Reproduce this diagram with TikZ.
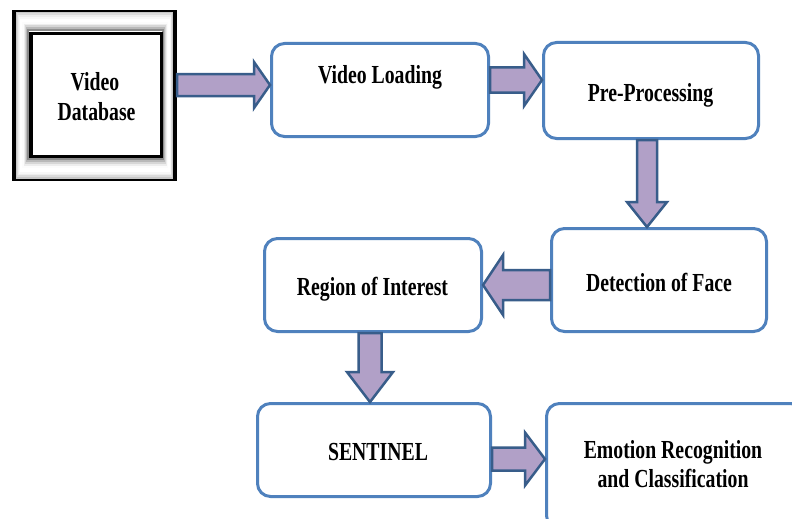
\documentclass[tikz,border=0pt]{standalone}
\usepackage{fontspec}
\usetikzlibrary{calc}
\newfontfamily\labfont{Liberation Serif}[FakeStretch=0.76,UprightFont={* Bold}]
\definecolor{boxblue}{HTML}{4F81BD}
\definecolor{arrowedge}{HTML}{385D8A}
\definecolor{arrowfill}{HTML}{B1A0C7}

% block arrow: tail, tip, shaft half-width, head half-width, head length
\newcommand\blockarrow[5]{%
  \path ($(#2)!#5!(#1)$) coordinate (ab);
  \draw[flowarrow] ($(#1)!#3!90:(#2)$) -- ($(ab)!#3!90:(#2)$) -- ($(ab)!#4!90:(#2)$) -- (#2)
    -- ($(ab)!#4!-90:(#2)$) -- ($(ab)!#3!-90:(#2)$) -- ($(#1)!#3!-90:(#2)$) -- cycle;}

\tikzset{
  procbox/.style={draw=boxblue, line width=3pt, rounded corners=13pt, fill=white, inner sep=0pt},
  flowarrow/.style={draw=arrowedge, fill=arrowfill, line width=2.5pt, line join=miter},
  lbl/.style={font=\labfont\fontsize{26}{29}\selectfont, inner sep=0pt, anchor=base, text=black},
}

\begin{document}
\begin{tikzpicture}[x=1pt,y=-1pt]
\clip (0,0) rectangle (792,519);
\fill[white] (0,0) rectangle (792,519);

% framed database block with a bevelled mat
\node[draw=black, line width=4pt, fill=white, minimum width=161pt, minimum height=167pt, inner sep=0pt] (dbframe) at (94.5,95.5) {};
\foreach \i in {0,...,10}{
  \pgfmathsetmacro\t{\i/10}
  \pgfmathsetmacro\g{int(\t<0.5 ? 22*(1-2*\t)*(1-2*\t) : 45*(2*\t-1)*(2*\t-1))}
  \draw[black!\g, line width=2.4pt] ({17+11*\t},{13+17*\t}) rectangle ({172-9*\t},{178-19*\t});
}
\node[draw=black, line width=3.5pt, fill=white, minimum width=130.5pt, minimum height=123pt, inner sep=0pt] (db) at (96.25,95) {};

% process boxes
\node[procbox, minimum width=217pt, minimum height=93pt]  (vl)  at (380,90)   {};
\node[procbox, minimum width=215pt, minimum height=96pt]  (pp)  at (651,90.5) {};
\node[procbox, minimum width=215pt, minimum height=103pt] (df)  at (659,280)  {};
\node[procbox, minimum width=217pt, minimum height=93pt]  (roi) at (373,285)  {};
\node[procbox, minimum width=233pt, minimum height=93pt]  (sen) at (374,450)  {};
\node[procbox, minimum width=257pt, minimum height=125pt] (emo) at (675,466)  {};

% arrow end points
\coordinate (a1s) at (dbframe.east |- 0,85);
\coordinate (a1e) at (vl.west |- 0,85);
\coordinate (a2s) at (vl.east |- 0,80);
\coordinate (a2e) at (pp.west |- 0,80);
\coordinate (a3s) at (pp.south -| 647,0);
\coordinate (a3e) at (df.north -| 647,0);
\coordinate (a4s) at (df.west |- 0,285);
\coordinate (a4e) at (roi.east |- 0,285);
\coordinate (a5s) at (roi.south -| 370,0);
\coordinate (a5e) at (sen.north -| 370,0);
\coordinate (a6s) at (sen.east |- 0,459);
\coordinate (a6e) at (emo.west |- 0,459);

\blockarrow{a1s}{a1e}{11pt}{23pt}{16pt}
\blockarrow{a2s}{a2e}{12.5pt}{26pt}{18pt}
\blockarrow{a3s}{a3e}{10pt}{20pt}{25pt}
\blockarrow{a4s}{a4e}{15pt}{30pt}{20pt}
\blockarrow{a5s}{a5e}{11.5pt}{23pt}{30pt}
\blockarrow{a6s}{a6e}{11.5pt}{26.5pt}{20pt}

% labels
\node[lbl] (dbt1) at (95,90)   {Video};
\node[lbl] (dbt2) at (96.5,120) {Database};
\node[lbl] (vlt)  at (380,83)   {Video Loading};
\node[lbl] (ppt)  at (650.5,101) {Pre-Processing};
\node[lbl] (dft)  at (659,291)  {Detection of Face};
\node[lbl] (roit) at (372.5,295) {Region of Interest};
\node[lbl] (sent) at (378,460)  {SENTINEL};
\node[lbl] (emt1) at (673,458)  {Emotion Recognition};
\node[lbl] (emt2) at (673,487)  {and Classification};
\end{tikzpicture}
\end{document}
